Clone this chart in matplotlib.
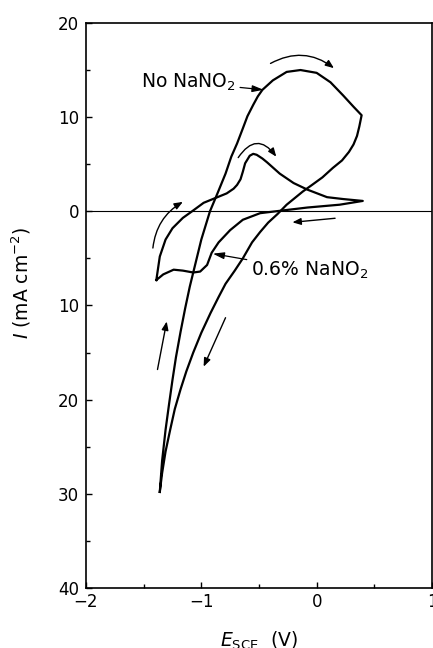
import numpy as np
import matplotlib
matplotlib.use('Agg')
import matplotlib.pyplot as plt
from matplotlib.patches import FancyArrowPatch
from matplotlib.ticker import MultipleLocator, FuncFormatter

# cyclic voltammograms, E_SCE (V) vs I (mA cm^-2), anodic positive
# no NaNO2: anodic sweep from -1.36 V up to +0.39 V and back
e_none = [-1.36, -1.34, -1.31, -1.28, -1.25, -1.22, -1.18, -1.14, -1.10, -1.06,
          -1.03, -1.00, -0.96, -0.925, -0.86, -0.79, -0.74, -0.69, -0.64, -0.60,
          -0.55, -0.51, -0.47, -0.38, -0.26, -0.14, 0.00, 0.12, 0.23, 0.32, 0.39,
          0.37, 0.35, 0.32, 0.28, 0.22, 0.14, 0.05, -0.04, -0.12, -0.20,
          -0.26, -0.34, -0.42, -0.49, -0.56, -0.64, -0.71, -0.79, -0.85, -0.92,
          -1.00, -1.07, -1.13, -1.18, -1.23, -1.27, -1.31, -1.34, -1.36]
i_none = [-29.8, -26.5, -23.2, -20.5, -17.9, -15.5, -12.8, -10.3, -8.0, -6.0,
          -4.5, -3.0, -1.4, 0.0, 1.9, 4.0, 5.8, 7.2, 8.8, 10.1,
          11.3, 12.2, 12.9, 13.9, 14.8, 15.0, 14.7, 13.7, 12.3, 11.1, 10.2,
          9.0, 8.0, 7.1, 6.3, 5.4, 4.6, 3.6, 2.8, 2.1, 1.3,
          0.7, -0.3, -1.2, -2.2, -3.3, -5.0, -6.3, -7.7, -9.1, -10.8,
          -12.9, -15.0, -17.0, -18.9, -21.0, -23.2, -25.5, -27.8, -29.8]

# 0.6 % NaNO2
e_nitrite = [-1.39, -1.36, -1.31, -1.25, -1.16, -1.08, -0.98, -0.88, -0.78, -0.72,
             -0.69, -0.66, -0.64, -0.62, -0.58, -0.55, -0.52, -0.47, -0.43, -0.32,
             -0.20, -0.08, 0.09, 0.23, 0.40,
             0.20, -0.08, -0.32, -0.49, -0.64, -0.75, -0.85, -0.91, -0.95, -1.01,
             -1.07, -1.16, -1.24, -1.33, -1.39]
i_nitrite = [-7.3, -4.8, -3.0, -1.8, -0.7, 0.0, 0.9, 1.4, 1.9, 2.4,
             2.8, 3.4, 4.2, 5.1, 5.9, 6.1, 6.0, 5.6, 5.2, 4.0,
             3.0, 2.3, 1.5, 1.3, 1.1,
             0.7, 0.4, 0.05, -0.2, -0.9, -2.0, -3.3, -4.4, -5.7, -6.4,
             -6.5, -6.3, -6.2, -6.7, -7.3]

yticks = [20, 10, 0, -10, -20, -30, -40]

fig = plt.figure(figsize=(4.33, 6.48), dpi=100)
ax = fig.add_axes([0.1986, 0.0926, 0.799, 0.872])

ax.plot(e_none, i_none, color='black', lw=1.6, solid_joinstyle='round')
ax.plot(e_nitrite, i_nitrite, color='black', lw=1.6, solid_joinstyle='round')
ax.axhline(0, color='black', lw=0.8)

ax.set_xlim(-2, 1)
ax.set_ylim(-40, 20)
ax.set_xticks([-2, -1, 0, 1])
ax.set_yticks(yticks)
ax.xaxis.set_minor_locator(MultipleLocator(0.5))
ax.yaxis.set_minor_locator(MultipleLocator(5))
ax.xaxis.set_major_formatter(FuncFormatter(lambda v, p: '%d' % v if v >= 0 else '\u2212%d' % -v))
ax.yaxis.set_major_formatter(FuncFormatter(lambda v, p: '%d' % abs(v)))
ax.tick_params(which='both', direction='in', labelsize=12, width=1)
ax.tick_params(which='major', length=4)
ax.tick_params(which='minor', length=3)
ax.tick_params(axis='y', pad=5)
ax.tick_params(axis='x', pad=3.5)
for s in ax.spines.values():
    s.set_linewidth(1.2)

ax.set_xlabel(r'$E_{\rm SCE}$  (V)', fontsize=13.5)
ax.xaxis.set_label_coords(0.5, -0.074)
ax.set_ylabel(r'$\mathit{I}$ (mA cm$^{-2}$)', fontsize=13.5)
ax.yaxis.set_label_coords(-0.153, 0.54)

# curve labels
ax.annotate('No NaNO$_2$', xy=(-0.46, 12.9), xytext=(-0.70, 13.7),
            fontsize=13.5, ha='right', va='center',
            arrowprops=dict(arrowstyle='-|>,head_length=0.5,head_width=0.15',
                            color='black', lw=0.9, shrinkA=1, shrinkB=0))
ax.annotate('0.6% NaNO$_2$', xy=(-0.90, -4.5), xytext=(-0.57, -6.3),
            fontsize=13.5, ha='left', va='center',
            arrowprops=dict(arrowstyle='-|>,head_length=0.5,head_width=0.15',
                            color='black', lw=0.9, shrinkA=1, shrinkB=0))

# sweep direction arrows
arrows = [((-0.40, 15.7), (0.15, 15.2), -0.32),
          ((-0.68, 5.7), (-0.35, 5.8), -0.7),
          ((-1.42, -3.9), (-1.16, 1.0), -0.25),
          ((-1.38, -16.8), (-1.30, -11.7), 0.0),
          ((-0.79, -11.3), (-0.98, -16.5), 0.0),
          ((0.16, -0.74), (-0.21, -1.17), 0.0)]
for a, b, r in arrows:
    ax.add_patch(FancyArrowPatch(a, b, connectionstyle='arc3,rad=%s' % r,
                                 arrowstyle='-|>,head_length=5,head_width=2',
                                 color='black', lw=1.0, shrinkA=0, shrinkB=0))

fig.savefig('out.png', dpi=100)
